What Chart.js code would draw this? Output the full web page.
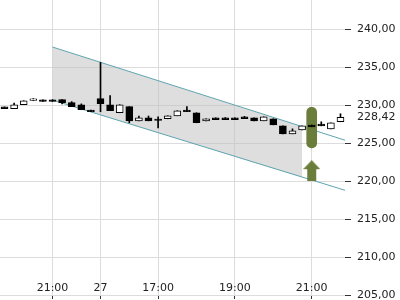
<!DOCTYPE html>
<html>
<head>
<meta charset="utf-8">
<script src="https://cdn.jsdelivr.net/npm/chart.js@4.4.1/dist/chart.umd.min.js"></script>
<style>
  body { margin: 0; background: #fff; }
  #wrap { width: 400px; height: 300px; }
</style>
</head>
<body>
<div id="wrap"><canvas id="chart"></canvas></div>
<script>
// 15 minute candles
const candleOpen  = [229.80, 229.56, 230.09, 230.66, 230.74, 230.74, 230.76, 230.36, 230.09, 229.40,
                     230.89, 230.09, 229.03, 229.83, 227.97, 228.37, 228.20, 228.24, 228.63, 229.40,
                     229.03, 227.97, 228.36, 228.36, 228.36, 228.48, 228.37, 227.97, 228.24, 227.31,
                     226.25, 226.78, 227.42, 227.55, 226.91, 227.84];
const candleHigh  = [229.80, 230.30, 230.62, 230.90, 230.74, 230.76, 230.76, 230.50, 230.20, 229.40,
                     235.66, 231.29, 230.09, 229.83, 228.60, 228.60, 228.50, 228.63, 229.30, 229.83,
                     229.03, 228.24, 228.36, 228.40, 228.36, 228.55, 228.37, 228.50, 228.24, 227.31,
                     226.91, 227.31, 227.42, 227.84, 227.71, 228.90];
const candleLow   = [229.58, 229.56, 230.09, 230.66, 230.52, 230.52, 230.20, 229.83, 229.43, 229.17,
                     229.16, 229.30, 229.03, 227.71, 227.97, 227.97, 227.04, 228.24, 228.63, 229.17,
                     227.71, 227.97, 228.12, 228.12, 228.12, 228.26, 227.97, 227.97, 227.44, 226.25,
                     226.25, 226.78, 227.18, 227.31, 226.91, 227.84];
const candleClose = [229.58, 230.09, 230.62, 230.88, 230.52, 230.52, 230.36, 229.83, 229.43, 229.17,
                     230.23, 229.30, 230.09, 227.97, 228.37, 227.97, 228.02, 228.63, 229.30, 229.17,
                     227.71, 228.24, 228.12, 228.12, 228.12, 228.26, 227.97, 228.50, 227.44, 226.25,
                     226.64, 227.31, 227.18, 227.31, 227.71, 228.42];

// trend channel
const channelX     = [5, 35.5];
const channelUpper = [237.7, 225.4];
const channelLower = [230.7, 218.8];
const shadeX       = [5, 31];
const shadeUpper   = [237.7, 227.2];
const shadeLower   = [230.7, 220.5];

// signal marks
const signalX = 32;
const signalBar = [224.4, 229.75];
const arrowY = 221.4;

const lastPrice = 228.42;
const lastPriceText = '228,42';

const xTickPos    = [5, 10, 16, 24, 32];
const xTickLabels = ['21:00', '27', '17:00', '19:00', '21:00'];
const yTickValues = [205, 210, 215, 220, 225, 230, 235, 240];
const yTickLabels = ['205,00', '210,00', '215,00', '220,00', '225,00', '230,00', '235,00', '240,00'];

const green = '#6b7d3a';
const teal = '#5ea5b0';

function xy(xs, ys) {
  return xs.map((x, i) => ({ x, y: ys[i] }));
}

// arrow glyph for the buy signal
function makeArrow() {
  const c = document.createElement('canvas');
  c.width = 17;
  c.height = 21;
  const g = c.getContext('2d');
  g.fillStyle = green;
  g.beginPath();
  g.moveTo(0, 9);
  g.lineTo(8.5, 0);
  g.lineTo(17, 9);
  g.closePath();
  g.fill();
  g.fillRect(4, 9, 9, 12);
  return c;
}

const isUp = i => candleClose[i] >= candleOpen[i];

const lastPriceLabel = {
  id: 'lastPriceLabel',
  afterDraw(chart) {
    const y = chart.scales.y;
    const ctx = chart.ctx;
    ctx.save();
    ctx.font = '11px "DejaVu Sans"';
    ctx.fillStyle = '#222';
    ctx.textBaseline = 'middle';
    ctx.fillText(lastPriceText, y.left + 12, y.getPixelForValue(lastPrice));
    ctx.restore();
  }
};

Chart.defaults.font.family = '"DejaVu Sans", sans-serif';
Chart.defaults.font.size = 11;
Chart.defaults.color = '#222';

new Chart(document.getElementById('chart'), {
  type: 'bar',
  data: {
    datasets: [
      {
        type: 'line',
        data: xy(shadeX, shadeUpper),
        borderWidth: 0,
        pointRadius: 0,
        fill: '+1',
        backgroundColor: 'rgba(190,190,190,0.5)',
        order: 10,
      },
      {
        type: 'line',
        data: xy(shadeX, shadeLower),
        borderWidth: 0,
        pointRadius: 0,
        order: 10,
      },
      {
        type: 'line',
        data: xy(channelX, channelUpper),
        borderColor: teal,
        borderWidth: 1,
        pointRadius: 0,
        order: 6,
      },
      {
        type: 'line',
        data: xy(channelX, channelLower),
        borderColor: teal,
        borderWidth: 1,
        pointRadius: 0,
        order: 6,
      },
      {
        data: [{ x: signalX, y: signalBar }],
        backgroundColor: green,
        barThickness: 10,
        borderRadius: 5,
        borderSkipped: false,
        grouped: false,
        order: 4,
      },
      {
        type: 'line',
        data: [{ x: signalX, y: arrowY }],
        showLine: false,
        pointStyle: makeArrow(),
        order: 3,
      },
      {
        // wicks
        data: candleLow.map((l, i) => ({ x: i, y: [l, candleHigh[i]] })),
        backgroundColor: '#000',
        barThickness: 1,
        grouped: false,
        order: 2,
      },
      {
        // bodies
        data: candleOpen.map((o, i) => ({ x: i, y: [o, candleClose[i]] })),
        backgroundColor: ctx => (isUp(ctx.dataIndex) ? '#fff' : '#000'),
        borderColor: '#000',
        borderWidth: 1,
        borderSkipped: false,
        barThickness: 7,
        grouped: false,
        order: 1,
      },
    ],
  },
  options: {
    responsive: true,
    maintainAspectRatio: false,
    animation: false,
    layout: { padding: 0, autoPadding: false },
    plugins: {
      legend: { display: false },
      tooltip: { enabled: false },
    },
    scales: {
      x: {
        type: 'linear',
        offset: false,
        min: -0.47,
        max: 35.47,
        border: { display: false },
        grid: {
          offset: false,
          color: '#dcdcdc',
          tickColor: '#333',
          tickLength: 4,
        },
        ticks: {
          autoSkip: false,
          maxRotation: 0,
          mirror: true,
          padding: 0,
          callback: (v, i) => xTickLabels[i],
        },
        afterBuildTicks: scale => {
          scale.ticks = xTickPos.map(v => ({ value: v }));
        },
        afterFit: scale => {
          scale.height = 5;
          scale.paddingLeft = 0;
          scale.paddingRight = 0;
        },
      },
      y: {
        position: 'right',
        min: 205,
        max: 243.9,
        border: { display: false },
        grid: {
          color: '#dcdcdc',
          tickColor: '#333',
          tickLength: 6,
        },
        ticks: {
          padding: 6,
          callback: (v, i) => yTickLabels[i],
        },
        afterBuildTicks: scale => {
          scale.ticks = yTickValues.map(v => ({ value: v }));
        },
        afterFit: scale => {
          scale.width = 55;
          scale.paddingTop = 0;
          scale.paddingBottom = 0;
        },
      },
    },
  },
  plugins: [lastPriceLabel],
});
</script>
</body>
</html>
